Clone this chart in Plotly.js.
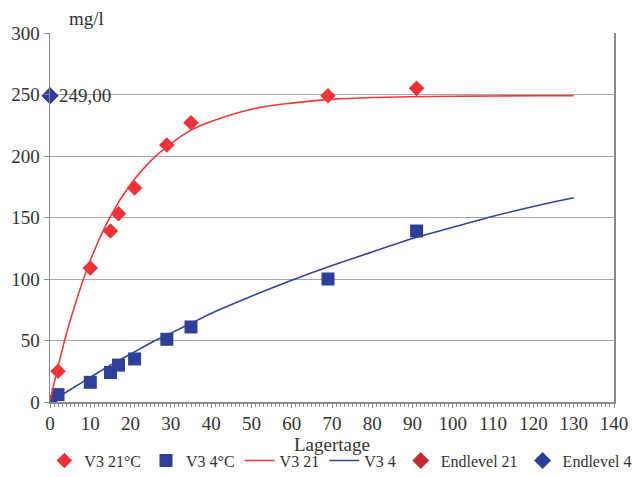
<!DOCTYPE html>
<html>
<head>
<meta charset="utf-8">
<script src="https://cdn.plot.ly/plotly-3.0.1.min.js"></script>
<style>
html,body{margin:0;padding:0;background:#fff;}
#chart{width:637px;height:477px;}
</style>
</head>
<body>
<div id="chart"></div>
<script>
// Measured points
var days = [0, 2, 10, 15, 17, 21, 29, 35, 69, 91];
var v3_21C = [0, 25, 109, 139, 153, 174, 209, 227, 249, 255];
var v3_4C = [0, 6, 16, 24, 30, 35, 51, 61, 100, 139];

// Fitted curves
var fitDays = [0, 2, 5, 10, 15, 20, 25, 30, 35, 40, 50, 60, 70, 80, 90, 100, 110, 120, 130];
var fit21 = [0, 29, 66, 115, 151, 177, 196, 210, 221, 228, 238, 243, 246, 247.5, 248.2, 248.6, 248.8, 249, 249];
var fit4 = [0, 4, 10, 20, 30, 39, 48, 56, 64, 72, 86, 99, 111, 122, 133, 142, 151, 159, 166];

// End levels
var endDays = [0];
var endlevel21 = [249];
var endlevel4 = [249];
var endLabel = "249,00";

var font = "Liberation Serif";
var txt = "#333333";
var red = "#EE3338";
var blue = "#2E3F98";

var traces = [
  {x: days, y: v3_21C, name: "V3 21°C", mode: "markers", type: "scatter",
   marker: {symbol: "diamond", size: 12, color: red}},
  {x: days, y: v3_4C, name: "V3 4°C", mode: "markers", type: "scatter",
   marker: {symbol: "square", size: 13, color: blue}},
  {x: fitDays, y: fit21, name: "V3 21", mode: "lines", type: "scatter",
   line: {color: "#F03A3A", width: 1.6, shape: "spline"}},
  {x: fitDays, y: fit4, name: "V3 4", mode: "lines", type: "scatter",
   line: {color: "#3443A0", width: 1.6, shape: "spline"}},
  {x: endDays, y: endlevel21, name: "Endlevel 21", mode: "markers", type: "scatter",
   marker: {symbol: "diamond", size: 13, color: "#C42A2F"}, cliponaxis: false},
  {x: endDays, y: endlevel4, name: "Endlevel 4", mode: "markers", type: "scatter",
   marker: {symbol: "diamond", size: 13, color: "#2A3F9E"}, cliponaxis: false}
];

var layout = {
  width: 637, height: 477,
  margin: {l: 50, r: 23, t: 33, b: 75, autoexpand: false},
  paper_bgcolor: "#fff", plot_bgcolor: "#fff",
  font: {family: font, size: 19, color: txt},
  showlegend: true,
  legend: {orientation: "h", x: -0.01, xanchor: "left", y: -0.205, yanchor: "bottom",
           font: {family: font, size: 16, color: txt}, itemwidth: 30, tracegroupgap: 0,
           traceorder: "normal", borderwidth: 0, bgcolor: "rgba(0,0,0,0)"},
  xaxis: {range: [0, 140], dtick: 10, tick0: 0, showgrid: false, zeroline: false,
          showline: true, linecolor: "#8a8a8a", linewidth: 1.5,
          ticks: "outside", ticklen: 4, tickcolor: "#8a8a8a",
          minor: {dtick: 1, ticks: "outside", ticklen: 3, tickcolor: "#8a8a8a", showgrid: false},
          tickfont: {family: font, size: 19, color: txt},
          title: {text: "Lagertage", font: {family: font, size: 19, color: txt}, standoff: 0}},
  yaxis: {range: [0, 300], dtick: 50, showgrid: true, gridcolor: "#a8a8a8", gridwidth: 1,
          zeroline: false, showline: true, mirror: true, linecolor: "#8a8a8a", linewidth: 1.5,
          ticks: "outside", ticklen: 5, tickcolor: "#8a8a8a",
          tickfont: {family: font, size: 19, color: txt}},
  annotations: [
    {text: "mg/l", xref: "paper", yref: "paper", x: 0.03, y: 1.005, xanchor: "left", yanchor: "bottom",
     showarrow: false, font: {family: font, size: 19, color: txt}},
    {text: endLabel, x: endDays[0], y: endlevel4[0], xref: "x", yref: "y", xanchor: "left", yanchor: "middle",
     xshift: 7, showarrow: false, font: {family: font, size: 19, color: txt}}
  ]
};

Plotly.newPlot("chart", traces, layout, {displayModeBar: false, staticPlot: true});
</script>
</body>
</html>
